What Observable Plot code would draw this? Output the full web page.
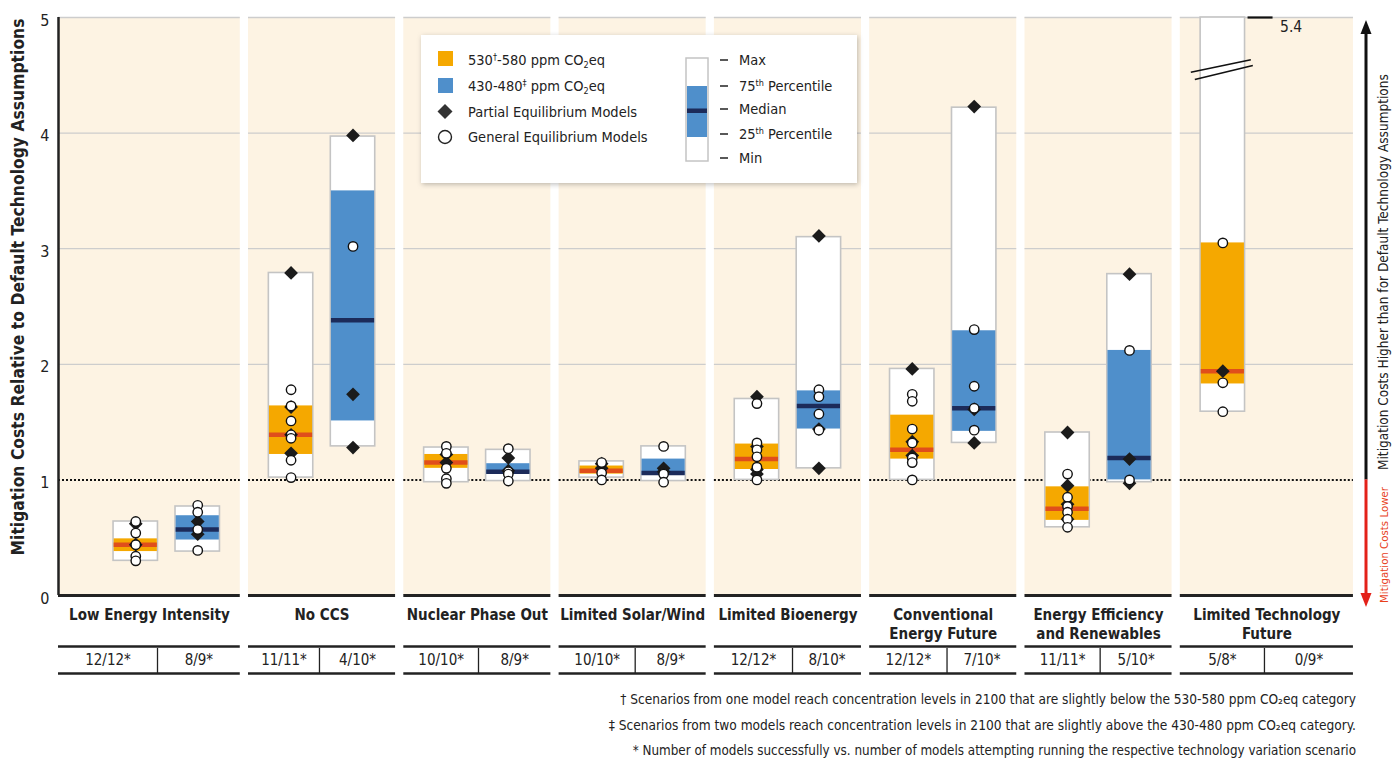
<!DOCTYPE html>
<html><head><meta charset="utf-8">
<script src="https://cdn.jsdelivr.net/npm/d3@7"></script>
<script src="https://cdn.jsdelivr.net/npm/@observablehq/plot@0.6"></script>
<style>
body{margin:0;background:#fff;}
#chart svg{overflow:visible;}
</style></head><body><div id="chart"></div>
<script>
// ---------------- DATA ----------------
const categories = ["Low Energy Intensity","No CCS","Nuclear Phase Out","Limited Solar/Wind","Limited Bioenergy","Conventional\nEnergy Future","Energy Efficiency\nand Renewables","Limited Technology\nFuture"];
const scenarios = ["530-580 ppm CO2eq","430-480 ppm CO2eq"];
// 530-580 ppm box statistics
const min530 = [0.30, 1.02, 0.98, 1.02, 1.00, 1.00, 0.59, 1.59];
const q1_530 = [0.38, 1.22, 1.10, 1.05, 1.09, 1.18, 0.65, 1.83];
const med530 = [0.44, 1.39, 1.15, 1.08, 1.18, 1.26, 0.75, 1.94];
const q3_530 = [0.49, 1.64, 1.22, 1.12, 1.31, 1.56, 0.94, 3.05];
const max530 = [0.64, 2.79, 1.28, 1.16, 1.70, 1.96, 1.41, 5.4];
// 430-480 ppm box statistics
const min430 = [0.38, 1.29, 0.99, 0.99, 1.10, 1.32, 0.98, null];
const q1_430 = [0.48, 1.51, 1.05, 1.04, 1.44, 1.42, 1.00, null];
const med430 = [0.57, 2.38, 1.07, 1.06, 1.64, 1.62, 1.19, null];
const q3_430 = [0.69, 3.50, 1.14, 1.18, 1.77, 2.29, 2.12, null];
const max430 = [0.77, 3.97, 1.26, 1.29, 3.10, 4.22, 2.78, null];
// Partial equilibrium (diamonds) and general equilibrium (circles) model results
const pe530 = [[0.62,0.44],[2.79,1.63,1.39,1.23],[1.22,1.15],[1.14,1.10],[1.72,1.29,1.09,1.05],[1.96,1.33,1.21],[1.41,0.95,0.79,0.66],[1.94]];
const ge530 = [[0.64,0.54,0.44,0.34,0.30],[1.78,1.64,1.51,1.39,1.36,1.17,1.02],[1.29,1.23,1.10,1.01,0.97],[1.15,1.06,1.00],[1.66,1.32,1.26,1.20,1.11,1.00],[1.74,1.68,1.44,1.32,1.19,1.15,1.00],[1.05,0.85,0.77,0.72,0.66,0.59],[3.05,1.84,1.59]];
const pe430 = [[0.64,0.53],[3.98,1.74,1.28],[1.19,1.08],[1.10,1.07],[3.11,1.44,1.10],[4.23,1.61,1.32],[2.78,1.18,0.97],[]];
const ge430 = [[0.78,0.72,0.57,0.39],[3.02],[1.27,1.07,1.05,0.99],[1.29,1.05,0.98],[1.78,1.72,1.57,1.43],[2.30,1.81,1.62,1.43],[2.12,1.00],[]];
// models successful / attempted
const success530 = ["12/12*","11/11*","10/10*","10/10*","12/12*","12/12*","11/11*","5/8*"];
const success430 = ["8/9*","4/10*","8/9*","8/9*","8/10*","7/10*","5/10*","0/9*"];
const yTicks = [0,1,2,3,4,5];
const gridValues = [2,3,4,5];
const legendLabels = ["Max","75th Percentile","Median","25th Percentile","Min"];
const footnotes = [
  "† Scenarios from one model reach concentration levels in 2100 that are slightly below the 530-580 ppm CO₂eq category",
  "‡ Scenarios from two models reach concentration levels in 2100 that are slightly above the 430-480 ppm CO₂eq category.",
  "* Number of models successfully vs. number of models attempting running the respective technology variation scenario"
];

// ---------------- STYLE / LAYOUT ----------------
const FONT = "'Liberation Sans Narrow','DejaVu Sans Condensed','Roboto Condensed','Arial Narrow','Open Sans',sans-serif";
const BEIGE = "#FDF3E3", ORANGE = "#F5A800", BLUE = "#4F8FCB", RED = "#E04E1B", NAVY = "#1C2B5A";
const BOX_OFF = [0.274, 0.673];
const HALF = 0.143;
const DIV_OFF = [0.414, 0.457, 0.481, 0.49, 0.503, 0.498, 0.484, 0.542];

const panels = categories.map((c, i) => {
  const x1 = i === 0 ? -0.2235 : i;
  const x2 = i === categories.length - 1 ? 8.115 : i + 0.947;
  return {i, label: c, x1, x2, mid: (x1 + x2) / 2, div: i + DIV_OFF[i]};
});
const grid = panels.flatMap(p => gridValues.map(v => ({...p, v})));

const boxes = [];
categories.forEach((c, i) => {
  const sets = [
    {s: 0, min: min530[i], q1: q1_530[i], med: med530[i], q3: q3_530[i], max: max530[i]},
    {s: 1, min: min430[i], q1: q1_430[i], med: med430[i], q3: q3_430[i], max: max430[i]}
  ];
  sets.forEach(b => { if (b.min != null) boxes.push({...b, i, cx: i + BOX_OFF[b.s]}); });
});
const overflow = boxes.filter(b => b.max > 5);

const pePts = [], gePts = [];
categories.forEach((c, i) => {
  pe530[i].forEach(v => pePts.push({x: i + BOX_OFF[0], v}));
  pe430[i].forEach(v => pePts.push({x: i + BOX_OFF[1], v}));
  ge530[i].forEach(v => gePts.push({x: i + BOX_OFF[0], v}));
  ge430[i].forEach(v => gePts.push({x: i + BOX_OFF[1], v}));
});

const cells = panels.flatMap(p => [
  {x: (p.x1 + p.div) / 2, t: success530[p.i]},
  {x: (p.div + p.x2) / 2, t: success430[p.i]}
]);

const PX_U = 155.3, PX_V = 115.6;
const chart = Plot.plot({
  width: 1392, height: 760,
  marginTop: 17, marginBottom: 165, marginLeft: 58, marginRight: 0,
  x: {domain: [-0.2235, 8.3665], range: [58, 1392], axis: null},
  y: {domain: [0, 5], range: [595, 17], axis: null},
  color: {type: "identity"},
  style: {fontFamily: FONT, fontSize: "15px", color: "#222", background: "#fff"},
  marks: [
    Plot.rect(panels, {x1: "x1", x2: "x2", y1: 0, y2: 5, fill: BEIGE}),
    Plot.ruleY(grid, {y: "v", x1: "x1", x2: "x2", stroke: "#cdcdcd", strokeWidth: 1.3}),
    Plot.ruleY(panels, {y: 1, x1: "x1", x2: "x2", stroke: "#111", strokeWidth: 2, strokeDasharray: "2,2"}),
    Plot.ruleY(panels, {y: 0, x1: "x1", x2: "x2", stroke: "#222", strokeWidth: 3}),
    Plot.ruleX([panels[0]], {x: "x1", y1: 0, y2: 5, stroke: "#222", strokeWidth: 2.5}),
    // boxes
    Plot.rect(boxes, {x1: d => d.cx - HALF, x2: d => d.cx + HALF, y1: "min", y2: d => Math.min(d.max, 5), fill: "white", stroke: "#c4c4c4", strokeWidth: 1.6}),
    Plot.rect(boxes, {x1: d => d.cx - HALF + 0.004, x2: d => d.cx + HALF - 0.004, y1: "q1", y2: "q3", fill: d => d.s ? BLUE : ORANGE}),
    Plot.ruleY(boxes, {y: "med", x1: d => d.cx - HALF + 0.004, x2: d => d.cx + HALF - 0.004, stroke: d => d.s ? NAVY : RED, strokeWidth: 4.5}),
    // axis break for values beyond 5
    Plot.link(overflow, {x1: d => d.cx - 32 / PX_U, y1: d => 4.55 - 2.7 / PX_V, x2: d => d.cx + 28 / PX_U, y2: d => 4.55 + 9.7 / PX_V, stroke: "#111", strokeWidth: 1.6}),
    Plot.link(overflow, {x1: d => d.cx - 28 / PX_U, y1: d => 4.55 - 10 / PX_V, x2: d => d.cx + 30 / PX_U, y2: d => 4.55 + 4 / PX_V, stroke: "#111", strokeWidth: 1.6}),
    Plot.ruleY(overflow, {y: 5, x1: d => d.cx + HALF + 3 / PX_U, x2: d => d.cx + HALF + 28 / PX_U, stroke: "#111", strokeWidth: 2.2}),
    Plot.text(overflow, {x: d => d.cx + HALF + 35 / PX_U, y: 5, text: d => d.max.toFixed(1), textAnchor: "start", dy: 10, fontSize: 15.5, fill: "#222"}),
    // points
    Plot.dot(pePts, {x: "x", y: "v", symbol: "diamond2", r: 6.2, fill: "#1b1b1b", stroke: "none"}),
    Plot.dot(gePts, {x: "x", y: "v", r: 4.7, fill: "white", stroke: "#111", strokeWidth: 1.4}),
    // category labels
    Plot.text(panels, {x: "mid", y: 0, text: "label", lineAnchor: "top", dy: 10, lineHeight: 1.32, fontWeight: "bold", fontSize: 15, fill: "#222"}),
    // table
    Plot.ruleY(panels, {y: 0, dy: 51, x1: "x1", x2: "x2", stroke: "#222", strokeWidth: 2.5}),
    Plot.ruleY(panels, {y: 0, dy: 78, x1: "x1", x2: "x2", stroke: "#222", strokeWidth: 2.5}),
    Plot.ruleX(panels, {x: "div", y1: -53 / PX_V, y2: -78 / PX_V, stroke: "#222", strokeWidth: 1.3}),
    Plot.text(cells, {x: "x", y: 0, dy: 65, text: "t", fontSize: 15, fill: "#222"}),
    // y axis tick labels
    Plot.axisY(yTicks, {tickSize: 0, tickPadding: 9, fontSize: 16, label: null, dy: 3, anchor: "left", tickFormat: d => String(d)})
  ]
});
document.getElementById("chart").appendChild(chart);

// ---------------- DECORATIONS ----------------
const svg = d3.select(chart);
const ys = chart.scale("y");
const defs = svg.append("defs");
const f = defs.append("filter").attr("id", "sh").attr("x", "-10%").attr("y", "-10%").attr("width", "130%").attr("height", "130%");
f.append("feDropShadow").attr("dx", 1).attr("dy", 1.5).attr("stdDeviation", 2.5).attr("flood-color", "#000").attr("flood-opacity", 0.25);

// fit a text element to a target width by adjusting its font size; returns the size used
function fitText(sel, target, base) {
  const w = sel.node().getComputedTextLength();
  const s = w > 0 ? base * target / w : base;
  sel.attr("font-size", s.toFixed(2));
  return s;
}

// y-axis title
const yt = svg.append("text").attr("transform", "translate(24,287) rotate(-90)")
  .attr("text-anchor", "middle").attr("font-family", FONT).attr("font-weight", "bold").attr("font-size", 18)
  .attr("fill", "#222").text("Mitigation Costs Relative to Default Technology Assumptions");
fitText(yt, 537, 18);

// right-side arrow
const ax = 1366, y1v = ys.apply(1);
svg.append("line").attr("x1", ax).attr("x2", ax).attr("y1", y1v).attr("y2", 30).attr("stroke", "#111").attr("stroke-width", 3);
svg.append("path").attr("d", `M${ax},20 L${ax - 5.5},34 L${ax + 5.5},34 Z`).attr("fill", "#111");
svg.append("line").attr("x1", ax).attr("x2", ax).attr("y1", y1v).attr("y2", 596).attr("stroke", "#E32119").attr("stroke-width", 3);
svg.append("path").attr("d", `M${ax},607 L${ax - 5.5},593 L${ax + 5.5},593 Z`).attr("fill", "#E32119");
const rt1 = svg.append("text").attr("transform", "translate(1388,470) rotate(-90)").attr("text-anchor", "start")
  .attr("font-family", FONT).attr("font-size", 14.5).attr("fill", "#222")
  .text("Mitigation Costs Higher than for Default Technology Assumptions");
const rs = fitText(rt1, 396, 14.5);
const rt2 = svg.append("text").attr("transform", "translate(1388,487) rotate(-90)").attr("text-anchor", "end")
  .attr("font-family", FONT).attr("font-size", rs.toFixed(2)).attr("fill", "#E8401C")
  .text("Mitigation Costs Lower");
if (rt2.node().getComputedTextLength() > 116) fitText(rt2, 116, rs);

// legend
const lg = svg.append("g").attr("font-family", FONT).attr("font-size", 14.5).attr("fill", "#222").attr("text-anchor", "start");
lg.append("rect").attr("x", 421).attr("y", 35).attr("width", 436).attr("height", 148).attr("fill", "#fff").attr("filter", "url(#sh)");
lg.append("rect").attr("x", 438).attr("y", 51).attr("width", 15).attr("height", 15).attr("fill", ORANGE);
lg.append("rect").attr("x", 438).attr("y", 78).attr("width", 15).attr("height", 15).attr("fill", BLUE);
lg.append("path").attr("d", "M445,104 L452.5,111.5 L445,119 L437.5,111.5 Z").attr("fill", "#333");
lg.append("circle").attr("cx", 445).attr("cy", 137).attr("r", 6.5).attr("fill", "#fff").attr("stroke", "#222").attr("stroke-width", 1.4);
function co2(t, x, y, pre, mark, post) {
  const tx = t.append("text").attr("x", x).attr("y", y);
  tx.append("tspan").text(pre);
  tx.append("tspan").attr("font-size", 9).attr("dy", -5).text(mark);
  tx.append("tspan").attr("dy", 5).text(post + " ppm CO");
  tx.append("tspan").attr("font-size", 9).attr("dy", 3).text("2");
  tx.append("tspan").attr("dy", -3).text("eq");
}
co2(lg, 468, 65, "530", "†", "-580");
co2(lg, 468, 91, "430-480", "‡", "");
lg.append("text").attr("x", 468).attr("y", 117).text("Partial Equilibrium Models");
lg.append("text").attr("x", 468).attr("y", 142).text("General Equilibrium Models");
lg.append("rect").attr("x", 686).attr("y", 58).attr("width", 22).attr("height", 103).attr("fill", "#fff").attr("stroke", "#c4c4c4").attr("stroke-width", 1.5);
lg.append("rect").attr("x", 687).attr("y", 86).attr("width", 20).attr("height", 51).attr("fill", BLUE);
lg.append("rect").attr("x", 687).attr("y", 108.5).attr("width", 20).attr("height", 4.5).attr("fill", NAVY);
const legY = [60, 86, 109, 134, 158];
legendLabels.forEach((l, k) => {
  lg.append("line").attr("x1", 720).attr("x2", 728).attr("y1", legY[k]).attr("y2", legY[k]).attr("stroke", "#222").attr("stroke-width", 1.5);
  const t = lg.append("text").attr("x", 739).attr("y", legY[k] + 5);
  const m = l.match(/^(\d+)(th)(.*)$/);
  if (m) {
    t.append("tspan").text(m[1]);
    t.append("tspan").attr("font-size", 9).attr("dy", -5).text(m[2]);
    t.append("tspan").attr("dy", 5).text(m[3]);
  } else t.text(l);
});

// footnotes
const fnY = [704, 730, 755], fnLen = [736, 748, 724];
footnotes.forEach((txt, k) => {
  const t = svg.append("text").attr("x", 1356).attr("y", fnY[k]).attr("text-anchor", "end")
    .attr("font-family", FONT).attr("font-size", 14).attr("fill", "#222").text(txt);
  fitText(t, fnLen[k], 14);
});
</script></body></html>
